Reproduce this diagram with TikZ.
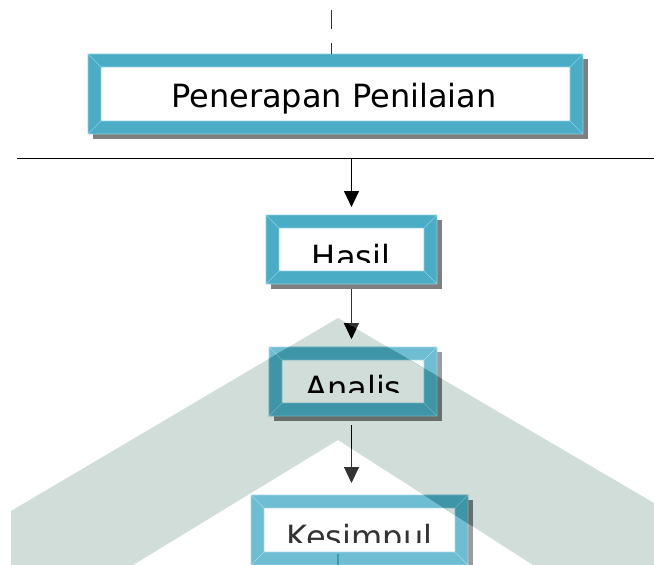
\documentclass[tikz,border=0pt]{standalone}
\usepackage{fontspec}
\setmainfont{DejaVu Sans}
\usetikzlibrary{arrows.meta,calc}
\definecolor{teal1}{HTML}{4BACC6}
\definecolor{teal1e}{HTML}{8CCFE0}
\definecolor{teal2}{HTML}{6EBDD2}
\definecolor{teal2e}{HTML}{A6D8E6}
\definecolor{shad1}{HTML}{7F7F7F}
\definecolor{shad2}{HTML}{9C9C9C}
\definecolor{ink2}{HTML}{333333}
\definecolor{bandc}{HTML}{D0DDD8}
\definecolor{spike}{HTML}{3F98A8}
\newcommand{\bevelnode}[5]{%
  \node[inner sep=0pt,outer sep=0pt,minimum width={(#4-#2)*1pt},minimum height={(#5-#3)*1pt}] (#1) at ({(#2+#4)/2},{(#3+#5)/2}) {};
}
\newcommand{\bevelpaint}[3]{%
  \fill[#3] ([shift={(5,5)}]#1.north west) rectangle ([shift={(5,5)}]#1.south east);
  \fill[#2] (#1.north west) rectangle (#1.south east);
  \fill[white] ([shift={(13,13)}]#1.north west) rectangle ([shift={(-13,-13)}]#1.south east);
  \draw[#2e,line width=0.6pt] (#1.north west) rectangle (#1.south east)
     ([shift={(13,13)}]#1.north west) rectangle ([shift={(-13,-13)}]#1.south east)
     (#1.north west) -- ([shift={(13,13)}]#1.north west)
     (#1.north east) -- ([shift={(-13,13)}]#1.north east)
     (#1.south west) -- ([shift={(13,-13)}]#1.south west)
     (#1.south east) -- ([shift={(-13,-13)}]#1.south east);
}
\tikzset{
  lbl/.style={font=\fontsize{32}{38}\selectfont,inner sep=0pt,anchor=base},
  conn/.style={line width=1pt,-{Triangle[width=15pt,length=16pt]}},
}
\newcommand{\bandpath}{(11,565) -- (11,511) -- (338,318) -- (654,503) -- (654,565) -- (533,565) -- (338,440) -- (133,565) -- cycle}
\begin{document}
\begin{tikzpicture}[x=1pt,y=-1pt]
\useasboundingbox (0,0) rectangle (654,565);
\fill[white] (0,0) rectangle (654,565);
% top tick
\coordinate (t1) at (331.5,10);
\coordinate (t2) at (331.5,29);
\coordinate (t3) at (331.5,43);
\draw[ink2,line width=1pt] (t1) -- (t2);
% nodes
\bevelnode{pen}{88}{54}{583}{134}
\bevelnode{hasil}{266}{215}{437}{284}
\bevelnode{analis}{269}{347}{437}{416}
\bevelnode{kes}{251}{495}{468}{565}
\coordinate (hlL) at (17,158);
\coordinate (hlR) at (654,158);
\coordinate (hlM) at (351.5,158);
\coordinate (a2s) at (351.5,289);
\coordinate (a3s) at (351.5,425);
\coordinate (sp1) at (338,554);
\coordinate (sp2) at (338,565);
% boxes
\bevelpaint{pen}{teal1}{shad1}
\draw[ink2,line width=1pt] (t3) -- (t3 |- pen.north);
\node[lbl] (pentext) at (334,107) {Penerapan Penilaian};
\draw[line width=1pt] (hlL) -- (hlR);
\bevelpaint{hasil}{teal1}{shad1}
\begin{scope}
\clip (266,215) rectangle (437,262);
\node[lbl] (hasiltext) at (351,268) {Hasil};
\end{scope}
\bevelpaint{analis}{teal2}{shad2}
\begin{scope}
\clip (269,347) rectangle (437,392);
\node[lbl,text=ink2] (analistext) at (353.5,399) {Analis};
\end{scope}
\bevelpaint{kes}{teal2}{shad2}
\begin{scope}
\clip (251,495) rectangle (468,542);
\node[lbl,text=ink2] (kestext) at (359.5,548) {Kesimpul};
\end{scope}
% connectors
\draw[conn] (hlM) -- ([yshift=8pt]hlM |- hasil.north);
\draw[conn,draw=ink2] (a2s) -- ([yshift=8pt]a2s |- analis.north);
\draw[conn,draw=ink2] (a3s) -- ([yshift=12pt]a3s |- kes.north);
\draw[spike,line width=1.5pt] (sp1) -- (sp2);
% inside the band the lower boxes keep their full colours
\begin{scope}
\clip \bandpath;
\bevelpaint{analis}{teal1}{shad1}
\begin{scope}
\clip (269,347) rectangle (437,392);
\node[lbl] at (353.5,399) {Analis};
\end{scope}
\bevelpaint{kes}{teal1}{shad1}
\begin{scope}
\clip (251,495) rectangle (468,542);
\node[lbl] at (359.5,548) {Kesimpul};
\end{scope}
\draw[conn] (a2s) -- ([yshift=8pt]a2s |- analis.north);
\draw[conn] (a3s) -- ([yshift=12pt]a3s |- kes.north);
\end{scope}
% watermark band
\begin{scope}[blend mode=multiply]
\fill[bandc] \bandpath;
\end{scope}
\end{tikzpicture}
\end{document}
